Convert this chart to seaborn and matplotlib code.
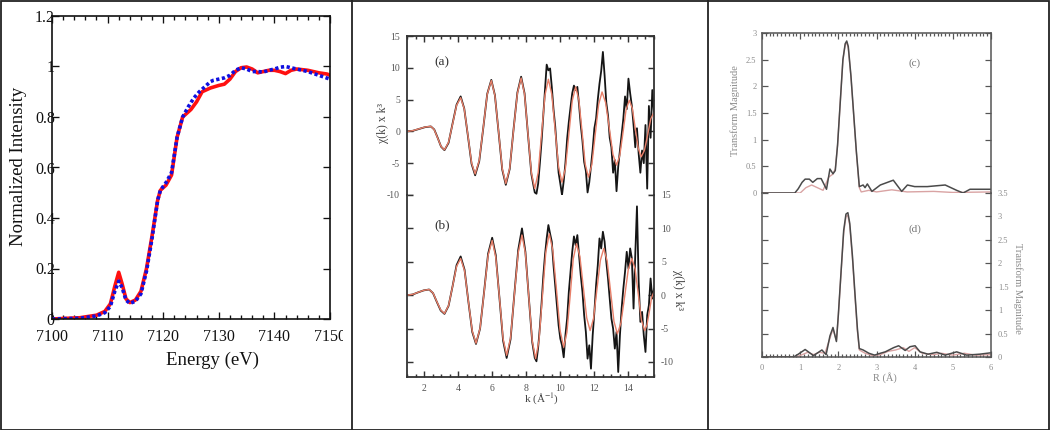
import matplotlib
matplotlib.use("Agg")
import matplotlib.pyplot as plt
from matplotlib.lines import Line2D
from matplotlib.patches import Rectangle
from matplotlib.ticker import MultipleLocator, FuncFormatter
from matplotlib.transforms import Bbox, TransformedBbox
import seaborn as sns

# ---- panel 1: XANES edge ----
energy_red = [7100, 7105, 7108, 7109.5, 7110.5, 7111.3, 7112, 7112.6, 7113.3, 7114, 7115, 7116,
              7117, 7118, 7119, 7119.5, 7120.5, 7121.5, 7122.5, 7123.5, 7125, 7126, 7127, 7128.5,
              7130, 7131, 7132, 7133, 7134, 7135, 7136, 7137, 7138, 7139, 7140, 7141, 7142, 7143,
              7144, 7146, 7148, 7149.5, 7150]
intens_red = [0.0, 0.005, 0.015, 0.03, 0.06, 0.13, 0.185, 0.14, 0.08, 0.065, 0.075, 0.11,
              0.2, 0.33, 0.47, 0.51, 0.53, 0.57, 0.72, 0.8, 0.83, 0.86, 0.9, 0.915,
              0.925, 0.93, 0.95, 0.98, 0.995, 0.998, 0.99, 0.975, 0.98, 0.985, 0.985, 0.98, 0.972, 0.985,
              0.99, 0.985, 0.975, 0.97, 0.965]
energy_blue = [7100, 7105, 7108, 7109.5, 7110.5, 7111.3, 7112, 7112.6, 7113.3, 7114, 7115, 7116,
               7117, 7118, 7119, 7119.5, 7120.5, 7121.5, 7122.5, 7123.5, 7124.5, 7125.5, 7126.5, 7127.5,
               7128.5, 7129, 7130, 7131, 7132, 7133, 7134, 7135, 7136, 7137, 7138, 7139, 7140, 7141,
               7142, 7143, 7144, 7146, 7148, 7150]
intens_blue = [0.0, 0.003, 0.012, 0.025, 0.05, 0.11, 0.15, 0.125, 0.075, 0.062, 0.07, 0.1,
               0.19, 0.32, 0.47, 0.51, 0.54, 0.58, 0.72, 0.8, 0.84, 0.875, 0.9, 0.92,
               0.94, 0.945, 0.95, 0.955, 0.965, 0.985, 0.995, 0.99, 0.98, 0.98, 0.978, 0.985, 0.99, 0.997,
               1.0, 0.995, 0.99, 0.98, 0.965, 0.95]

# ---- panel 2: EXAFS chi(k)*k^3, (a) top and (b) bottom ----
k_fit_a = [1.0, 1.35, 1.7, 2.05, 2.4, 2.6, 2.8, 3.0, 3.2, 3.44, 3.68, 3.91, 4.15, 4.36, 4.58, 4.79,
           5.0, 5.24, 5.48, 5.71, 5.95, 6.16, 6.38, 6.59, 6.8, 7.03, 7.25, 7.48, 7.7, 7.9, 8.1, 8.3,
           8.5, 8.7, 8.9, 9.1, 9.3, 9.5, 9.7, 9.9, 10.1, 10.3, 10.5, 10.7, 10.9, 11.09, 11.28, 11.46,
           11.65, 11.85, 12.05, 12.25, 12.45, 12.66, 12.88, 13.09, 13.3, 13.49, 13.68, 13.86, 14.05,
           14.23, 14.4, 14.58, 14.75, 14.94, 15.13, 15.31, 15.5]
chi_fit_a = [0.0, 0.12, 0.4, 0.68, 0.8, 0.26, -1.05, -2.36, -2.9, -1.7, 1.2, 4.1, 5.3, 3.55, -0.7, -4.95,
             -6.7, -4.55, 0.65, 5.85, 8.0, 5.63, -0.1, -5.83, -8.2, -5.78, 0.1, 5.98, 8.4, 5.86, -0.3, -6.46,
             -9.0, -6.49, -0.4, 5.69, 8.2, 5.83, 0.1, -5.63, -8.0, -5.81, -0.5, 4.81, 7.0, 4.93, -0.1, -5.13,
             -7.2, -5.24, -0.5, 4.24, 6.2, 4.52, 0.45, -3.62, -5.3, -3.81, -0.2, 3.41, 4.9,
             3.6, 0.45, -2.7, -4.0, -2.98, -0.5, 1.98, 3.0]
k_grid_hi = [8.5, 8.6, 8.7, 8.8, 8.9, 9.0, 9.1, 9.2, 9.3, 9.4, 9.5, 9.6, 9.7, 9.8, 9.9,
             10.0, 10.1, 10.2, 10.3, 10.4, 10.5, 10.6, 10.7, 10.8, 10.9, 11.0, 11.1, 11.2, 11.3, 11.4,
             11.5, 11.6, 11.7, 11.8, 11.9, 12.0, 12.1, 12.2, 12.3, 12.4, 12.5, 12.6, 12.7, 12.8, 12.9,
             13.0, 13.1, 13.2, 13.3, 13.4, 13.5, 13.6, 13.7, 13.8, 13.9, 14.0, 14.1, 14.2, 14.3, 14.4,
             14.5, 14.6, 14.7, 14.8, 14.9, 15.0, 15.1, 15.2, 15.3, 15.4, 15.5]
chi_dat_a_lo = [0.0, 0.1, 0.38, 0.66, 0.78, 0.3, -1.0, -2.4, -2.95, -1.8, 1.3, 4.2, 5.5, 3.6, -0.8, -5.1,
                -6.9, -4.7, 0.6, 5.9, 8.1, 5.7, -0.2, -6.0, -8.4, -5.9, 0.2, 6.1, 8.6, 6.0, -0.4, -6.7]
chi_dat_a_hi = [-9.6, -9.8, -8.2, -5.0, -1.5, 2.5, 6.5, 10.5, 9.6, 9.9, 7.0, 3.5, 0.8, -3.0, -6.5,
                -8.2, -10.0, -7.8, -5.0, -1.2, 1.5, 3.8, 6.0, 7.2, 6.5, 7.0, 4.2, 1.0, -1.5, -4.8,
                -6.2, -9.6, -8.0, -5.5, -2.8, 0.5, 2.0, 5.0, 7.5, 9.5, 12.5, 8.8, 4.5, 2.5, -1.0,
                -2.5, -6.5, -4.5, -9.4, -5.5, -3.0, -0.5, 2.0, 5.5, 3.5, 8.3, 6.0, 4.0, 1.0, -2.5,
                0.5, -3.5, -6.5, -3.0, -5.0, 1.0, -9.0, 4.0, -1.0, 6.5, 3.0]

k_fit_b = [1.0, 1.33, 1.65, 1.98, 2.3, 2.53, 2.75, 2.98, 3.2, 3.44, 3.68, 3.91, 4.15, 4.38, 4.6, 4.83,
           5.05, 5.29, 5.53, 5.76, 6.0, 6.21, 6.43, 6.64, 6.85, 7.08, 7.3, 7.53, 7.75, 7.95, 8.15, 8.35,
           8.55, 8.75, 8.95, 9.15, 9.35, 9.56, 9.78, 9.99, 10.2, 10.39, 10.58, 10.76, 10.95, 11.15,
           11.35, 11.55, 11.75, 11.95, 12.15, 12.35, 12.55, 12.75, 12.95, 13.15, 13.35, 13.56, 13.78,
           13.99, 14.2, 14.39, 14.58, 14.76, 14.95, 15.09, 15.23, 15.36, 15.5]
chi_fit_b = [0.0, 0.12, 0.43, 0.73, 0.85, 0.32, -0.95, -2.22, -2.75, -1.55, 1.38, 4.3, 5.5, 3.65, -0.85, -5.35,
             -7.2, -4.95, 0.5, 5.95, 8.2, 5.69, -0.4, -6.49, -9.0, -6.37, 0.0, 6.37, 9.0, 6.3, -0.25, -6.8,
             -9.5, -6.77, -0.15, 6.47, 9.2, 6.72, 0.7, -5.32, -7.8, -5.54, -0.05, 5.44, 7.7, 5.8,
             1.2, -3.4, -5.3, -3.5, 0.85, 5.2, 7.0, 5.13, 0.6, -3.93, -5.8, -4.15, -0.15,
             3.85, 5.5, 3.92, 0.1, -3.72, -5.3, -4.45, -2.4, -0.35, 0.5]
chi_dat_b_lo = [0.0, 0.1, 0.42, 0.72, 0.85, 0.3, -1.0, -2.3, -2.8, -1.6, 1.4, 4.5, 5.8, 3.8, -0.9, -5.5,
                -7.3, -5.0, 0.6, 6.2, 8.6, 6.0, -0.5, -6.8, -9.4, -6.6, 0.1, 6.8, 10.0, 6.5, -0.3, -7.0]
chi_dat_b_hi = [-9.4, -9.9, -7.8, -4.8, -1.2, 2.8, 6.0, 8.5, 10.5, 9.2, 8.0, 4.5, 1.5, -1.5, -4.5,
                -6.5, -7.5, -9.3, -6.0, -3.5, 0.5, 3.5, 6.5, 8.8, 7.5, 9.0, 6.0, 3.0, 0.5, -3.0,
                -5.5, -9.5, -7.5, -11.0, -6.0, -2.5, 1.5, 4.5, 8.5, 7.0, 9.5, 8.0, 5.0, 2.5, -0.5,
                -3.5, -5.0, -8.0, -5.5, -11.5, -6.0, -2.0, 1.0, 3.5, 6.5, 4.0, 7.0, 5.5, -2.0, 6.0,
                13.3, 2.0, -4.0, -2.5, -6.0, -8.5, -3.0, -1.5, 2.5, -0.5, 1.0]

# ---- panel 3: Fourier transform magnitude, (c) top and (d) bottom ----
r_dat_c = [0.0, 0.86, 0.95, 1.05, 1.13, 1.24, 1.33, 1.45, 1.55, 1.69, 1.78, 1.86, 1.92, 1.98, 2.05,
           2.12, 2.18, 2.22, 2.26, 2.33, 2.4, 2.47, 2.55, 2.65, 2.7, 2.76, 2.88, 3.1, 3.44, 3.66,
           3.81, 4.0, 4.33, 4.8, 5.1, 5.27, 5.45, 6.0]
ft_dat_c = [0.0, 0.0, 0.08, 0.2, 0.26, 0.26, 0.2, 0.27, 0.27, 0.07, 0.45, 0.36, 0.42, 0.9, 1.7,
            2.5, 2.8, 2.85, 2.75, 2.2, 1.5, 0.8, 0.12, 0.15, 0.1, 0.17, 0.03, 0.15, 0.24, 0.03,
            0.15, 0.12, 0.12, 0.15, 0.05, 0.0, 0.07, 0.07]
r_fit_c = [0.0, 1.0, 1.15, 1.3, 1.45, 1.6, 1.75, 1.85, 1.92, 1.98, 2.05, 2.12, 2.18, 2.22, 2.26,
           2.33, 2.4, 2.47, 2.55, 2.6, 2.8, 3.0, 3.4, 3.8, 4.5, 5.0, 6.0]
ft_fit_c = [0.0, 0.0, 0.1, 0.15, 0.1, 0.05, 0.3, 0.35, 0.45, 0.9, 1.7, 2.5, 2.78, 2.82, 2.72,
            2.18, 1.48, 0.78, 0.1, 0.02, 0.05, 0.02, 0.06, 0.02, 0.03, 0.01, 0.02]
r_dat_d = [0.0, 0.83, 0.95, 1.13, 1.35, 1.57, 1.68, 1.78, 1.86, 1.95, 2.0, 2.07, 2.14, 2.2, 2.25,
           2.3, 2.37, 2.44, 2.5, 2.55, 2.65, 2.8, 2.95, 3.06, 3.23, 3.45, 3.58, 3.75, 3.88, 4.01,
           4.14, 4.35, 4.58, 4.8, 5.1, 5.36, 5.7, 6.0]
ft_dat_d = [0.0, 0.0, 0.06, 0.16, 0.03, 0.15, 0.05, 0.45, 0.63, 0.33, 0.9, 1.8, 2.7, 3.05, 3.08,
            2.85, 2.15, 1.3, 0.6, 0.18, 0.15, 0.08, 0.04, 0.07, 0.11, 0.2, 0.24, 0.14, 0.22, 0.24,
            0.11, 0.06, 0.1, 0.04, 0.11, 0.04, 0.06, 0.09]
r_fit_d = [0.0, 0.9, 1.05, 1.2, 1.35, 1.5, 1.65, 1.78, 1.86, 1.95, 2.0, 2.07, 2.14, 2.2, 2.25,
           2.3, 2.37, 2.44, 2.5, 2.55, 2.7, 2.9, 3.1, 3.3, 3.5, 3.7, 3.85, 4.0, 4.2, 4.5, 4.7,
           5.0, 5.3, 5.6, 6.0]
ft_fit_d = [0.0, 0.0, 0.05, 0.1, 0.05, 0.1, 0.08, 0.4, 0.6, 0.35, 0.88, 1.78, 2.65, 3.0, 3.02,
            2.8, 2.1, 1.25, 0.55, 0.15, 0.08, 0.03, 0.05, 0.12, 0.15, 0.2, 0.12, 0.2, 0.08, 0.05, 0.08,
            0.04, 0.08, 0.04, 0.05]

sns.set_theme(style="ticks")
plt.rcParams["font.family"] = ["Liberation Serif", "DejaVu Serif"]
plt.rcParams["mathtext.fontset"] = "stix"

W, H = 1050, 430
fig = plt.figure(figsize=(10.5, 4.3), dpi=100)
fig.patch.set_facecolor("white")
fmt = FuncFormatter(lambda v, p: f"{v:g}")


def box(l, t, r, b):
    # pixel box -> figure rect
    return [l / W, 1 - b / H, (r - l) / W, (b - t) / H]


def line(ax, x, y, **kw):
    sns.lineplot(x=x, y=y, ax=ax, sort=False, estimator=None, legend=False, **kw)


def style(ax, size, color, spine_col, major, minor, lw):
    for s in ax.spines.values():
        s.set_color(spine_col)
        s.set_linewidth(lw)
    ax.tick_params(which="both", direction="in", colors=spine_col, labelcolor=color,
                   labelsize=size, width=lw * 0.8)
    ax.tick_params(which="major", length=major)
    ax.tick_params(which="minor", length=minor)
    ax.set_xlabel("")
    ax.set_ylabel("")
    ax.xaxis.set_major_formatter(fmt)
    ax.yaxis.set_major_formatter(fmt)


# panel 1
ax1 = fig.add_axes(box(52, 16, 330, 319))
line(ax1, energy_red, intens_red, color="#ff1010", lw=2.6)
line(ax1, energy_blue, intens_blue, color="#1010e0", lw=2.6, ls=(0, (0.9, 0.7)))
ax1.set_xlim(7100, 7150)
ax1.set_ylim(0, 1.2)
ax1.xaxis.set_major_locator(MultipleLocator(10))
ax1.xaxis.set_minor_locator(MultipleLocator(2))
ax1.yaxis.set_major_locator(MultipleLocator(0.2))
style(ax1, 11.5, "#111111", "#111111", 5, 3, 1.2)
ax1.tick_params(top=True, right=True, which="both")
ax1.tick_params(axis="y", which="minor", left=False, right=False)
ax1.tick_params(axis="y", pad=-2)
ax1.tick_params(axis="x", pad=7)
fig.text(19 / W, 1 - 166 / H, "Normalized Intensity", rotation=90, ha="center", va="center",
         fontsize=13.5, color="#111111")
fig.text(212 / W, 1 - 360 / H, "Energy (eV)", ha="center", va="center", fontsize=13.5,
         color="#111111")

# panel 2
fit_col = "#e8806a"
ax2a = fig.add_axes(box(407, 36, 654, 195))
ax2b = fig.add_axes(box(407, 195, 654, 377))
line(ax2a, k_fit_a[:32] + k_grid_hi, chi_dat_a_lo + chi_dat_a_hi, color="#151515", lw=1.3)
line(ax2a, k_fit_a, chi_fit_a, color=fit_col, lw=1.0)
line(ax2b, k_fit_b[:32] + k_grid_hi, chi_dat_b_lo + chi_dat_b_hi, color="#151515", lw=1.3)
line(ax2b, k_fit_b, chi_fit_b, color=fit_col, lw=1.0)
ax2a.set_ylim(-10, 15)
ax2b.set_ylim(-12.25, 15)
for ax in (ax2a, ax2b):
    ax.set_xlim(1, 15.5)
    ax.xaxis.set_major_locator(MultipleLocator(2))
    ax.xaxis.set_minor_locator(MultipleLocator(0.5))
    ax.yaxis.set_major_locator(MultipleLocator(5))
    style(ax, 7, "#555555", "#333333", 4, 2, 1.3)
ax2a.spines["bottom"].set_visible(False)
ax2b.spines["top"].set_visible(False)
ax2a.tick_params(which="both", top=True, bottom=False, labelbottom=False, left=True, right=True,
                 labelleft=True, labelright=False, pad=5)
ax2b.tick_params(which="both", top=False, bottom=True, labelbottom=True, left=True, right=True,
                 labelleft=False, labelright=True, pad=5)
for ax in (ax2a, ax2b):
    ax.tick_params(axis="y", which="minor", left=False, right=False)
fig.text(383 / W, 1 - 123 / H, "χ(k) x k³", rotation=90, ha="center", va="center",
         fontsize=8.5, color="#444444")
fig.text(678 / W, 1 - 290 / H, "χ(k) x k³", rotation=-90, ha="center", va="center",
         fontsize=8.5, color="#444444")
fig.text(442 / W, 1 - 62 / H, "(a)", ha="center", va="center", fontsize=9.5, color="#333333")
fig.text(442 / W, 1 - 225 / H, "(b)", ha="center", va="center", fontsize=9.5, color="#333333")
fig.text(542 / W, 1 - 399 / H, "k (Å$^{-1}$)", ha="center", va="center", fontsize=8,
         color="#444444")

# panel 3
dat_col = "#4a4a4a"
ft_col = "#d9a3a3"
ax3a = fig.add_axes(box(762, 33, 991, 193))
ax3b = fig.add_axes(box(762, 193, 991, 357))
line(ax3a, r_fit_c, ft_fit_c, color=ft_col, lw=1.0)
line(ax3a, r_dat_c, ft_dat_c, color=dat_col, lw=1.1)
line(ax3b, r_fit_d, ft_fit_d, color=ft_col, lw=1.0)
line(ax3b, r_dat_d, ft_dat_d, color=dat_col, lw=1.1)
ax3a.set_ylim(0, 3)
ax3b.set_ylim(0, 3.5)
for ax in (ax3a, ax3b):
    ax.set_xlim(0, 6)
    ax.xaxis.set_major_locator(MultipleLocator(1))
    ax.xaxis.set_minor_locator(MultipleLocator(0.1))
    ax.yaxis.set_major_locator(MultipleLocator(0.5))
    style(ax, 6, "#8a8a8a", "#555555", 4, 2, 1.1)
ax3a.spines["bottom"].set_visible(False)
ax3b.spines["top"].set_visible(False)
ax3a.tick_params(which="both", top=True, bottom=False, labelbottom=False, left=True, right=True,
                 labelleft=True, labelright=False, pad=4)
ax3b.tick_params(which="both", top=False, bottom=True, labelbottom=True, left=True, right=True,
                 labelleft=False, labelright=True, pad=5)
for ax in (ax3a, ax3b):
    ax.tick_params(axis="y", which="minor", left=False, right=False)
fig.text(735 / W, 1 - 111 / H, "Transform Magnitude", rotation=90, ha="center", va="center",
         fontsize=7.5, color="#8a8a8a")
fig.text(1018 / W, 1 - 288 / H, "Transform Magnitude", rotation=-90, ha="center", va="center",
         fontsize=7.5, color="#8a8a8a")
fig.text(915 / W, 1 - 63 / H, "(c)", ha="center", va="center", fontsize=8, color="#777777")
fig.text(915 / W, 1 - 229 / H, "(d)", ha="center", va="center", fontsize=8, color="#777777")
fig.text(885 / W, 1 - 378 / H, "R (Å)", ha="center", va="center", fontsize=7.5, color="#888888")

# table-like frame around the three cells
fig.add_artist(Rectangle((0.5 / W, 0.5 / H), (W - 1.5) / W, (H - 1.5) / H,
                         transform=fig.transFigure, fill=False, ec="#222222", lw=1.3))
for xp in (352, 708):
    fig.add_artist(Line2D([xp / W, xp / W], [0, 1], transform=fig.transFigure,
                          color="#222222", lw=1.3))

# the last energy label is cut by the cell border
fig.canvas.draw()
clip = TransformedBbox(Bbox([[0, 0], [343 / W, 1]]), fig.transFigure)
for lbl in ax1.get_xticklabels():
    lbl.set_clip_box(clip)
    lbl.set_clip_on(True)

fig.savefig("out.png", dpi=100, facecolor="white")
